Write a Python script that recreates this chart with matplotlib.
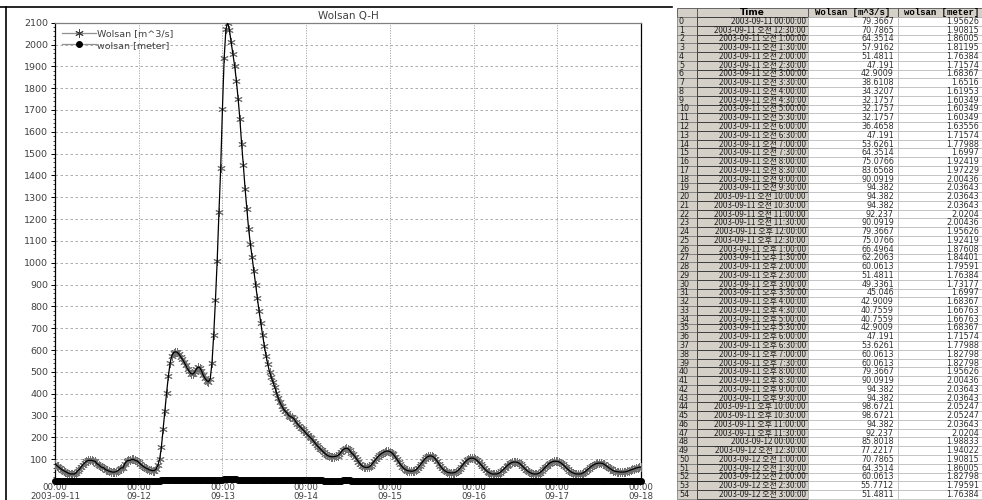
import pandas as pd
import matplotlib
matplotlib.use('Agg')
import matplotlib.pyplot as plt
from matplotlib.lines import Line2D
from matplotlib.patches import Rectangle

# 30-minute discharge [m^3/s], one list per day
flow_0911 = [79.3667, 70.7865, 64.3514, 57.9162, 51.4811, 47.191, 42.9009, 38.6108, 34.3207, 32.1757,
             32.1757, 32.1757, 36.4658, 47.191, 53.6261, 64.3514, 75.0766, 83.6568, 90.0919, 94.382,
             94.382, 94.382, 92.237, 90.0919, 79.3667, 75.0766, 66.4964, 62.2063, 60.0613, 51.4811,
             49.3361, 45.046, 42.9009, 40.7559, 40.7559, 42.9009, 47.191, 53.6261, 60.0613, 60.0613,
             79.3667, 90.0919, 94.382, 94.382, 98.6721, 98.6721, 94.382, 92.237]
flow_0912 = [85.8018, 77.2217, 70.7865, 64.3514, 60.0613, 55.7712, 51.4811, 49.3, 47.2, 48.0,
             55, 72, 100, 155, 240, 320, 405, 480, 540, 575,
             588, 592, 590, 582, 570, 558, 545, 530, 515, 502,
             492, 490, 498, 512, 522, 520, 505, 485, 470, 460,
             455, 468, 540, 670, 830, 1010, 1231, 1432]
flow_0913 = [1706, 1938, 2071, 2100, 2068, 2010, 1956, 1903, 1834, 1751,
             1659, 1545, 1446, 1339, 1247, 1156, 1088, 1025, 960, 900,
             840, 780, 725, 670, 620, 575, 535, 500, 475, 455,
             430, 405, 380, 360, 345, 330, 320, 312, 300, 295,
             292, 285, 272, 262, 252, 245, 236, 228]
flow_0914 = [218, 210, 202, 195, 185, 175, 165, 156, 148, 140,
             132, 125, 118, 114, 112, 111, 112, 113, 116, 122,
             132, 142, 148, 150, 148, 140, 128, 122, 112, 100,
             88, 78, 70, 65, 62, 62, 64, 70, 80, 90,
             100, 110, 118, 125, 130, 134, 137, 137]
flow_0915 = [135, 130, 122, 112, 100, 88, 76, 66, 58, 52,
             48, 46, 45, 45, 47, 52, 60, 70, 80, 90,
             100, 108, 113, 115, 114, 110, 102, 92, 80, 68,
             58, 50, 44, 40, 38, 37, 37, 38, 42, 48,
             56, 66, 76, 86, 94, 100, 104, 105]
flow_0916 = [104, 100, 94, 86, 77, 68, 58, 50, 43, 38,
             34, 32, 32, 32, 34, 38, 45, 52, 60, 68,
             75, 81, 85, 87, 87, 86, 82, 76, 68, 60,
             52, 45, 40, 36, 33, 32, 32, 34, 38, 45,
             53, 62, 70, 78, 84, 88, 90, 91]
flow_0917 = [90, 88, 83, 77, 70, 62, 54, 47, 41, 37,
             34, 32, 32, 32, 34, 38, 43, 50, 57, 64,
             70, 75, 79, 81, 82, 82, 80, 76, 70, 64,
             58, 53, 48, 45, 43, 42, 41, 41, 41, 42,
             44, 47, 50, 53, 56, 59, 61, 63]
flow_0918 = [64]

# 30-minute water level [meter]
meter_0911 = [1.95626, 1.90815, 1.86005, 1.81195, 1.76384, 1.71574, 1.68367, 1.6516, 1.61953, 1.60349,
              1.60349, 1.60349, 1.63556, 1.71574, 1.77988, 1.6997, 1.92419, 1.97229, 2.00436, 2.03643,
              2.03643, 2.03643, 2.0204, 2.00436, 1.95626, 1.92419, 1.87608, 1.84401, 1.79591, 1.76384,
              1.73177, 1.6997, 1.68367, 1.66763, 1.66763, 1.68367, 1.71574, 1.77988, 1.82798, 1.82798,
              1.95626, 2.00436, 2.03643, 2.03643, 2.05247, 2.05247, 2.03643, 2.0204]
meter_0912 = [1.98833, 1.94022, 1.90815, 1.86005, 1.82798, 1.79591, 1.76384, 1.73, 1.72, 1.72,
              1.79, 1.91, 2.06, 2.38, 2.81, 3.14, 3.46, 3.72, 3.91, 4.02,
              4.05, 4.07, 4.06, 4.04, 4.00, 3.96, 3.92, 3.88, 3.83, 3.79,
              3.76, 3.75, 3.77, 3.82, 3.85, 3.84, 3.80, 3.73, 3.68, 3.65,
              3.64, 3.68, 3.91, 4.30, 4.74, 5.20, 5.72, 6.17]
meter_0913 = [6.73, 7.17, 7.41, 7.46, 7.40, 7.30, 7.20, 7.11, 6.98, 6.82,
              6.64, 6.40, 6.20, 5.97, 5.76, 5.55, 5.39, 5.24, 5.08, 4.92,
              4.77, 4.60, 4.45, 4.30, 4.15, 4.02, 3.89, 3.78, 3.70, 3.64,
              3.55, 3.46, 3.37, 3.30, 3.24, 3.18, 3.14, 3.11, 3.06, 3.04,
              3.03, 3.00, 2.95, 2.91, 2.86, 2.83, 2.79, 2.76]
meter_0914 = [2.71, 2.67, 2.63, 2.59, 2.54, 2.49, 2.44, 2.39, 2.35, 2.30,
              2.25, 2.21, 2.17, 2.14, 2.13, 2.12, 2.13, 2.14, 2.16, 2.19,
              2.25, 2.31, 2.35, 2.36, 2.35, 2.30, 2.23, 2.19, 2.13, 2.06,
              1.99, 1.94, 1.90, 1.86, 1.84, 1.84, 1.86, 1.90, 1.96, 2.00,
              2.06, 2.12, 2.17, 2.21, 2.24, 2.26, 2.28, 2.28]
meter_0915 = [2.27, 2.24, 2.19, 2.13, 2.06, 1.99, 1.93, 1.87, 1.81, 1.76,
              1.72, 1.71, 1.70, 1.70, 1.72, 1.76, 1.83, 1.90, 1.96, 2.00,
              2.06, 2.11, 2.14, 2.15, 2.14, 2.12, 2.07, 2.02, 1.96, 1.88,
              1.81, 1.74, 1.69, 1.67, 1.65, 1.65, 1.65, 1.65, 1.68, 1.72,
              1.80, 1.87, 1.93, 1.98, 2.03, 2.06, 2.08, 2.09]
meter_0916 = [2.08, 2.06, 2.03, 1.98, 1.94, 1.88, 1.81, 1.74, 1.69, 1.65,
              1.62, 1.60, 1.60, 1.60, 1.62, 1.65, 1.70, 1.76, 1.83, 1.88,
              1.92, 1.96, 1.98, 1.99, 1.99, 1.98, 1.97, 1.93, 1.88, 1.83,
              1.76, 1.70, 1.67, 1.64, 1.61, 1.60, 1.60, 1.62, 1.65, 1.70,
              1.77, 1.84, 1.90, 1.94, 1.98, 1.99, 2.00, 2.01]
meter_0917 = [2.00, 1.99, 1.97, 1.94, 1.90, 1.84, 1.78, 1.72, 1.67, 1.65,
              1.62, 1.60, 1.60, 1.60, 1.62, 1.65, 1.69, 1.74, 1.80, 1.86,
              1.90, 1.92, 1.95, 1.96, 1.97, 1.97, 1.96, 1.93, 1.90, 1.86,
              1.81, 1.77, 1.72, 1.70, 1.69, 1.68, 1.67, 1.67, 1.67, 1.68,
              1.69, 1.72, 1.74, 1.77, 1.80, 1.82, 1.84, 1.85]
meter_0918 = [1.86]

flow = (flow_0911 + flow_0912 + flow_0913 + flow_0914 + flow_0915
        + flow_0916 + flow_0917 + flow_0918)
meter = (meter_0911 + meter_0912 + meter_0913 + meter_0914 + meter_0915
         + meter_0916 + meter_0917 + meter_0918)
times = pd.date_range('2003-09-11 00:00', periods=len(flow), freq='30min')

day_ticks = pd.date_range('2003-09-11', '2003-09-18', freq='D')
day_labels = ['00:00\n2003-09-11', '00:00\n09-12', '00:00\n09-13', '00:00\n09-14',
              '00:00\n09-15', '00:00\n09-16', '00:00\n09-17', '00:00\n09-18']

W, H = 982, 500
fig = plt.figure(figsize=(W / 100, H / 100), dpi=100)
txt = '#404040'

# ---- chart ----
ax = fig.add_axes([55 / W, 1 - 481 / H, 586 / W, (481 - 22.7) / H])
ax.plot(times, flow, ls='none', marker=(6, 2, 0), ms=6, mec='#707070', mew=0.7, zorder=3)
ax.plot(times, flow, color='black', lw=0.9, zorder=4)
ax.plot(times, meter, color='black', lw=1.5, marker='o', ms=4, mfc='black', mec='black', zorder=5,
        clip_on=False)

ax.set_xlim(day_ticks[0], day_ticks[-1])
ax.set_ylim(0, 2100)
ax.set_xticks(day_ticks)
ax.set_xticklabels(day_labels, fontsize=6.2, color=txt, linespacing=0.95)
ax.set_yticks(range(100, 2101, 100))
ax.set_yticklabels([str(v) for v in range(100, 2101, 100)], fontsize=6.8, color=txt)
ax.set_yticks(range(0, 2101, 20), minor=True)
ax.tick_params(axis='y', which='major', length=3, width=0.7, pad=2)
ax.tick_params(axis='y', which='minor', length=1.5, width=0.5)
ax.tick_params(axis='x', length=0, pad=1.5)

for v in range(100, 2100, 100):
    ax.axhline(v, color='#a0a0a0', lw=0.6, ls=(0, (3, 3)), zorder=1)
for d in day_ticks[1:-1]:
    ax.axvline(d, color='#a0a0a0', lw=0.6, ls=(0, (1.5, 1.5)), zorder=1)

for side in ['left', 'right', 'bottom']:
    ax.spines[side].set_color('black')
    ax.spines[side].set_linewidth(0.9)
ax.spines['top'].set_color('#808080')
ax.spines['top'].set_linewidth(0.9)

ax.set_title('Wolsan Q-H', fontsize=7.5, color=txt, pad=2.5)

handles = [Line2D([], [], color='#909090', lw=0.9, marker=(6, 2, 0), ms=6, mec='#404040', mew=0.7),
           Line2D([], [], color='#909090', lw=0.9, marker='o', ms=4, mfc='black', mec='black')]
leg = ax.legend(handles, ['Wolsan [m^3/s]', 'wolsan [meter]'], loc='upper left',
                bbox_to_anchor=(0.0, 1.0), frameon=False, fontsize=6.8, handlelength=3.6,
                handletextpad=0.1, labelspacing=0.25, borderaxespad=0.3)
for t in leg.get_texts():
    t.set_color(txt)

# panel border of the chart window
fig.add_artist(Line2D([0, 672 / W], [1 - 7 / H, 1 - 7 / H], color='black', lw=1.2))
fig.add_artist(Line2D([5.5 / W, 5.5 / W], [0, 1 - 7 / H], color='black', lw=1.2))

# ---- data table ----
tab = fig.add_axes([0, 0, 1, 1])
tab.set_xlim(0, W)
tab.set_ylim(H, 0)
tab.axis('off')

col_x = [677, 697, 808, 898, 986]
top, head_h, row_h = 8, 9, 8.76
gray = '#d4d0c8'
kr = ['Noto Sans CJK KR', 'DejaVu Sans']


def fmt_time(t):
    if t.hour == 0 and t.minute == 0:
        return t.strftime('%Y-%m-%d %H:%M:%S')
    ampm = '오전' if t.hour < 12 else '오후'
    h = t.hour % 12 or 12
    return f"{t:%Y-%m-%d} {ampm} {h}:{t:%M:%S}"


headers = ['', 'Time', 'Wolsan [m^3/s]', 'wolsan [meter]']
for c in range(4):
    x0, x1 = col_x[c], col_x[c + 1]
    tab.add_patch(Rectangle((x0, top), x1 - x0, head_h, fc=gray, ec='#505050', lw=0.6))
    fam = ['Liberation Mono'] if c >= 2 else ['DejaVu Sans']
    tab.text((x0 + x1) / 2, top + head_h / 2 + 0.3, headers[c], ha='center', va='center',
             fontsize=6.5, fontweight='bold', family=fam, color='black')

n_rows = 55
for r in range(n_rows):
    y = top + head_h + r * row_h
    tab.add_patch(Rectangle((col_x[0], y), col_x[1] - col_x[0], row_h, fc=gray, ec='#707070', lw=0.5))
    tab.text(col_x[0] + 2, y + row_h / 2, str(r), ha='left', va='center', fontsize=5.8, color='#202020')

    cell = Rectangle((col_x[1], y), col_x[2] - col_x[1], row_h, fc=gray, ec='#303030', lw=0.6)
    tab.add_patch(cell)
    t = tab.text(col_x[2] - 2, y + row_h / 2, fmt_time(times[r]), ha='right', va='center',
                 fontsize=5.8, family=kr, color='#202020')
    t.set_clip_path(cell)

    for c, val in [(2, flow[r]), (3, meter[r])]:
        tab.add_patch(Rectangle((col_x[c], y), col_x[c + 1] - col_x[c], row_h,
                                fc='white', ec='#b8b8b8', lw=0.5))
        tab.text(col_x[c + 1] - 4 if c == 2 else W - 3, y + row_h / 2, f"{val:g}", ha='right',
                 va='center', fontsize=5.8, color='#303030')

fig.savefig('out.png', dpi=100)
